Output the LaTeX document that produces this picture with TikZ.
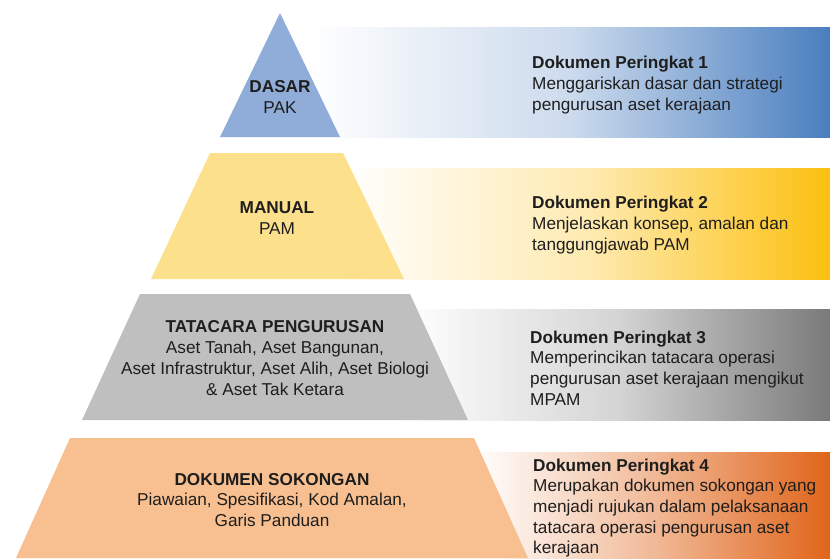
\documentclass[tikz,border=0pt]{standalone}
\usepackage{fontspec}
\setmainfont{Liberation Sans}
\definecolor{tierblue}{HTML}{8FADD8}
\definecolor{tieryellow}{HTML}{FCE08C}
\definecolor{tiergrey}{HTML}{BFBFBF}
\definecolor{tierorange}{HTML}{F8C090}
\definecolor{bandblue}{HTML}{4A7EBF}
\definecolor{bandyellow}{HTML}{FCC010}
\definecolor{bandgrey}{HTML}{7A7A7A}
\definecolor{bandorange}{HTML}{E0651A}
\definecolor{txt}{HTML}{1E1E1E}
\begin{document}
\begin{tikzpicture}[x=1pt,y=-1pt,
  tiertext/.style={align=center,text=txt,inner sep=0pt,font=\fontsize{17.2}{20.8}\selectfont},
  desctext/.style={align=left,anchor=west,text=txt,inner sep=0pt,font=\fontsize{17.2}{20.7}\selectfont}]
\useasboundingbox (0,0) rectangle (830,558);
\clip (0,0) rectangle (830,558);
% gradient bands
\shade[left color=white,right color=bandblue,middle color=bandblue!28] (310,27) rectangle (830,137);
\shade[left color=white,right color=bandyellow,middle color=bandyellow!32] (340,168) rectangle (830,279);
\shade[left color=white,right color=bandgrey,middle color=bandgrey!32] (405,309) rectangle (830,420);
\shade[left color=white,right color=bandorange,middle color=bandorange!45] (475,452) rectangle (830,558);
% pyramid tiers
\fill[tierblue] (280,13) -- (340,137) -- (220,137) -- cycle;
\fill[tieryellow] (210,153) -- (343,153) -- (404,279) -- (151,279) -- cycle;
\fill[tiergrey] (140,294) -- (410,294) -- (468,420) -- (82,420) -- cycle;
\fill[tierorange] (70,438) -- (474,438) -- (528,558) -- (16,558) -- cycle;
% tier labels
\node[tiertext] (t1) at (280,97) {\textbf{DASAR}\\PAK};
\node[tiertext] (t2) at (277,218) {\textbf{MANUAL}\\PAM};
\node[tiertext] (t3) at (275,358) {\textbf{TATACARA PENGURUSAN}\\Aset Tanah, Aset Bangunan,\\Aset Infrastruktur, Aset Alih, Aset Biologi\\\& Aset Tak Ketara};
\node[tiertext] (t4) at (272,500) {\textbf{DOKUMEN SOKONGAN}\\Piawaian, Spesifikasi, Kod Amalan,\\Garis Panduan};
% descriptions
\node[desctext] (d1) at (532,85) {\textbf{Dokumen Peringkat 1}\\Menggariskan dasar dan strategi\\pengurusan aset kerajaan};
\node[desctext] (d2) at (532,225) {\textbf{Dokumen Peringkat 2}\\Menjelaskan konsep, amalan dan\\tanggungjawab PAM};
\node[desctext] (d3) at (530,368) {\textbf{Dokumen Peringkat 3}\\Memperincikan tatacara operasi\\pengurusan aset kerajaan mengikut\\MPAM};
\node[desctext] (d4) at (533,508) {\textbf{Dokumen Peringkat 4}\\Merupakan dokumen sokongan yang\\menjadi rujukan dalam pelaksanaan\\tatacara operasi pengurusan aset\\kerajaan};
\end{tikzpicture}
\end{document}
